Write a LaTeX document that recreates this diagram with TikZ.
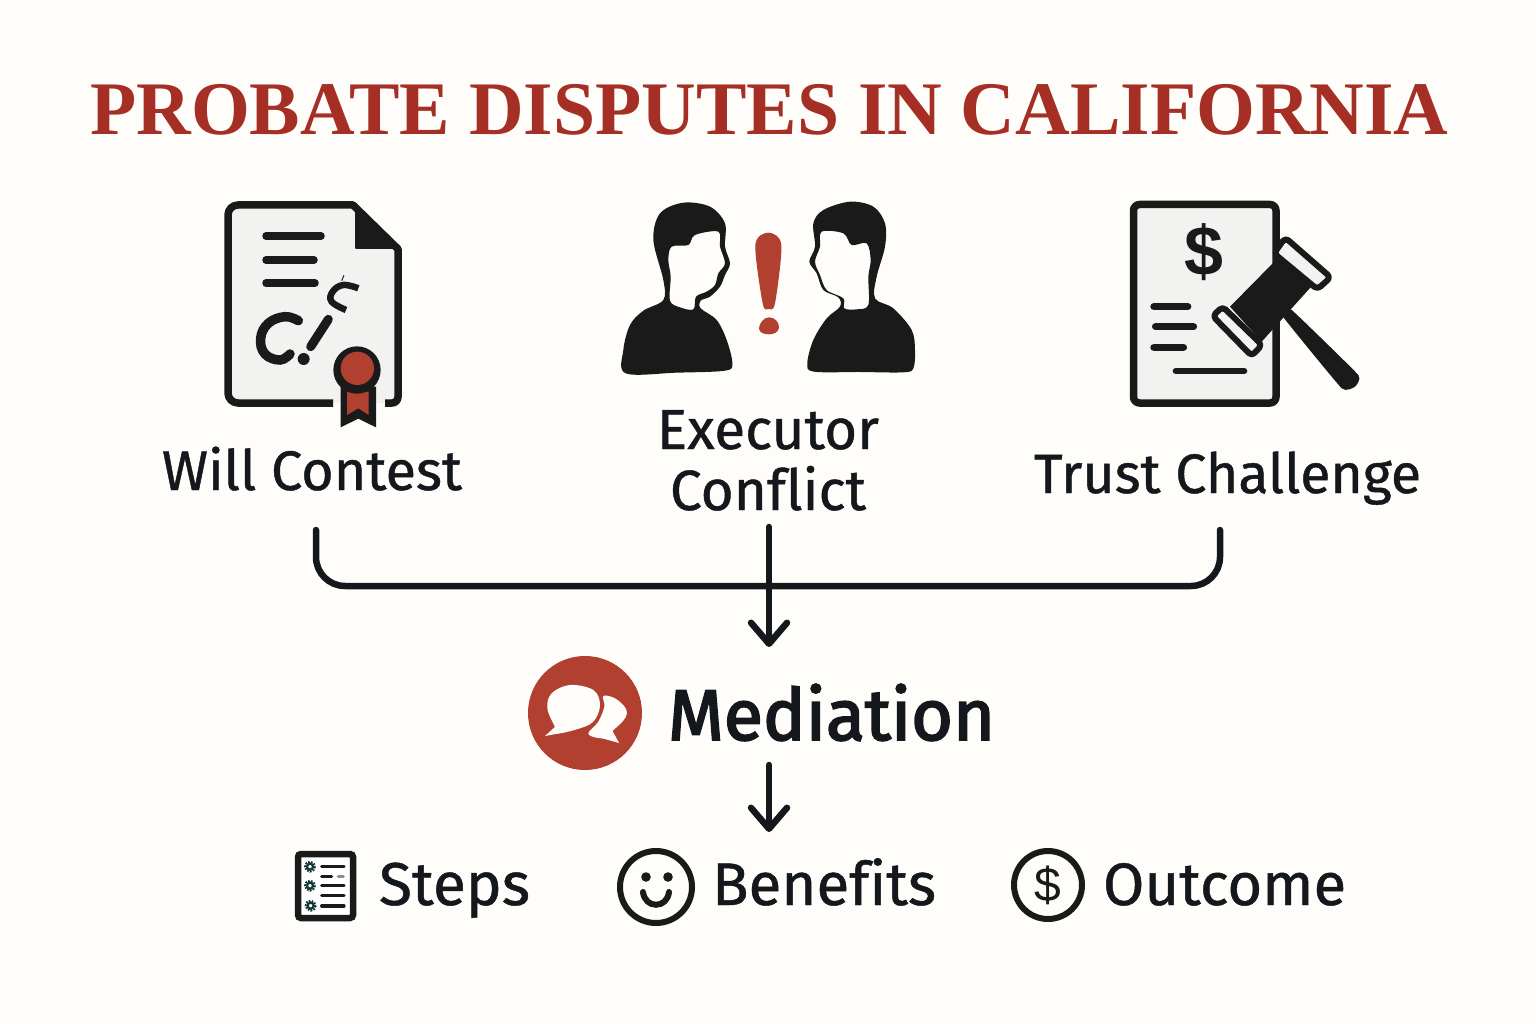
\documentclass[tikz,border=0pt]{standalone}
\usepackage{graphicx}
\usepackage{fontspec}
\setmainfont{Fira Sans}
\newfontfamily\titlefont{Liberation Serif}
\newfontfamily\labelfont[FakeBold=0.8,Ligatures=NoCommon]{Fira Sans}
\newfontfamily\medfont[FakeBold=2.6,Ligatures=NoCommon]{Fira Sans}
\newfontfamily\signfont{Liberation Sans}
\usetikzlibrary{arrows.meta}
\definecolor{bgc}{HTML}{FEFDF9}
\definecolor{ink}{HTML}{1A1A1A}
\definecolor{txt}{HTML}{14181C}
\definecolor{redc}{HTML}{B24030}
\definecolor{titlec}{HTML}{A52E25}
\definecolor{paper}{HTML}{F2F3F1}
\newcommand{\fitw}[2]{\resizebox{#1pt}{!}{#2}}
\tikzset{
  lab/.style={anchor=base west,inner sep=0pt,outer sep=0pt,text=txt,font=\labelfont},
  docline/.style={draw=ink,line width=7.5pt,line cap=round,line join=round},
  thinline/.style={draw=ink,line width=3.2pt,line cap=round},
  conn/.style={draw=txt,line width=6.5pt,line cap=round},
  arrowconn/.style={conn,-{Straight Barb[length=21pt,width=36pt,round]}},
  zoomA/.style={shift={(200,190)},x=0.33333pt,y=-0.33333pt},
  zoomB/.style={shift={(610,190)},x=0.33333pt,y=-0.33333pt},
  zoomC/.style={shift={(1110,190)},x=0.33333pt,y=-0.33333pt},
  zoomD/.style={shift={(510,640)},x=0.33333pt,y=-0.33333pt},
  zoomE/.style={shift={(280,835)},x=0.33333pt,y=-0.33333pt},
  gear/.style={draw=ink!70!teal,line width=1.6pt,fill=white},
}
\begin{document}
\begin{tikzpicture}[x=1pt,y=-1pt]
\useasboundingbox (0,0) rectangle (1536,1024);
\fill[bgc] (0,0) rectangle (1536,1024);
% title
\node[anchor=base west,inner sep=0pt,text=titlec,font=\titlefont\bfseries] (title) at (90,135) {\fitw{1358}{PROBATE DISPUTES IN CALIFORNIA}};

% ---- will document
\fill[paper] (231,205) -- (355,205) -- (398,248) -- (398,403) -- (231,403) -- cycle;
\draw[docline,line cap=butt] (333,403) -- (238,403) arc[start angle=90,end angle=180,radius=10] -- (228,215) arc[start angle=180,end angle=270,radius=10] -- (353,205) -- (398,249) -- (398,397) arc[start angle=0,end angle=90,radius=6] -- (385,403);
\fill[ink,rounded corners=1pt] (355,206) -- (399,249) -- (355,249) -- cycle;
\draw[docline] (266,236) -- (321,236);
\draw[docline] (266,260) -- (314,260);
\draw[docline] (266,283) -- (315,283);
\begin{scope}[zoomA]
  \draw[draw=ink,line width=9.5pt,line cap=round] plot[smooth,tension=0.7] coordinates {(295,392) (255,380) (205,400) (182,445) (195,492) (240,510) (270,492)};
  \draw[draw=ink,line width=9pt,line cap=round] (385,388) -- (332,470);
  \fill[ink] (311,507) circle[radius=18];
  \draw[draw=ink,line width=6.5pt,line cap=butt] plot[smooth,tension=0.7] coordinates {(475,295) (430,285) (398,305) (395,335) (438,360)};
  \draw[draw=ink,line width=1pt] (432,256) -- (425,272);
  % ribbon
  \fill[ink] (422,590) -- (422,712) -- (475,686) -- (528,712) -- (528,590) -- cycle;
  \fill[redc] (441,605) -- (441,675) -- (475,655) -- (506,675) -- (506,605) -- cycle;
  \fill[ink] (471,540) circle[radius=71];
  \fill[redc] (472,535) circle[radius=50];
\end{scope}
\node[lab] (will) at (162,490) {\fitw{300}{Will Contest}};

% ---- two people
\begin{scope}[zoomB]
  \fill[ink,even odd rule] plot[smooth cycle,tension=0.55] coordinates {(47,550) (40,480) (60,405) (100,362) (160,330) (160,270) (130,150) (150,70) (220,38) (300,50) (345,100) (345,170) (360,220) (345,255) (330,290) (300,320) (272,332) (272,355) (320,390) (350,450) (367,520) (345,542) (200,548)}
   plot[smooth cycle,tension=0.55] coordinates {(180,332) (182,260) (175,210) (185,170) (235,165) (255,135) (325,125) (330,170) (345,220) (325,250) (315,285) (290,305) (258,320) (250,358) (210,352)};
  \fill[ink,even odd rule] plot[smooth cycle,tension=0.55] coordinates {(612,545) (592,520) (610,450) (650,385) (690,350) (685,322) (640,300) (620,250) (598,215) (615,170) (610,100) (640,60) (720,35) (790,50) (825,100) (825,170) (800,260) (795,325) (850,355) (905,420) (915,480) (910,535) (880,547) (750,546)}
   plot[smooth cycle,tension=0.55] coordinates {(703,355) (700,325) (650,300) (630,255) (615,215) (630,170) (635,125) (700,130) (725,165) (770,160) (782,210) (775,260) (775,345) (740,358)};
  \fill[redc] plot[smooth cycle,tension=0.5] coordinates {(436,165) (475,128) (514,165) (495,340) (475,357) (458,340)};
  \fill[redc] (477,382) .. controls (495,382) and (508,398) .. (507,413) .. controls (505,428) and (490,433) .. (477,433) .. controls (462,433) and (447,428) .. (447,415) .. controls (447,400) and (462,382) .. (477,382) -- cycle;
\end{scope}
\node[lab] (exec) at (657,449) {\fitw{222}{Executor}};
\node[lab] (conflict) at (670,510) {\fitw{196}{Conflict}};

% ---- trust document
\filldraw[docline,fill=paper,rounded corners=6pt] (1133.5,204.5) rectangle (1276,403);
\node[anchor=center,inner sep=0pt,text=ink,font=\signfont\bfseries\fontsize{70}{70}\selectfont] (dollar) at (1204,252) {\$};
\begin{scope}[zoomC]
  \draw[docline] (132,350) -- (233,350);
  \draw[docline] (137,410) -- (250,410);
  \draw[docline] (132,472) -- (220,472);
  \draw[docline,line width=6pt] (197,543) -- (403,543);
  % gavel
  \fill[ink] plot[smooth cycle,tension=0.2] coordinates {(515,375) (545,360) (745,555) (735,590) (695,595)};
  \fill[ink] (503,205) -- (608,285) -- (455,455) -- (360,350) -- cycle;
  \filldraw[draw=ink,line width=6pt,fill=paper,rounded corners=4pt,line join=round] (526,143) -- (492,190) -- (622,298) -- (662,262) -- cycle;
  \filldraw[draw=ink,line width=6pt,fill=paper,rounded corners=4pt,line join=round] (338,350) -- (308,378) -- (425,498) -- (456,465) -- cycle;
\end{scope}
\node[lab] (trust) at (1034,493) {\fitw{387}{Trust Challenge}};

% ---- connectors
\coordinate (bracketL) at (316,530);
\coordinate (bracketR) at (1220,530);
\coordinate (hubTop) at (769,527);
\coordinate (hubEnd) at (769,647);
\coordinate (medOut) at (769,765);
\coordinate (medEnd) at (769,832);
\draw[conn,rounded corners=29pt] (bracketL) -- (316,586) -- (1220,586) -- (bracketR);
\draw[arrowconn] (hubTop) -- (hubEnd);
\draw[arrowconn] (medOut) -- (medEnd);

% ---- mediation
\node[circle,fill=redc,minimum size=114pt,inner sep=0pt] (medicon) at (585,713) {};
\begin{scope}[zoomD]
  \fill[bgc] plot[smooth cycle,tension=0.6] coordinates {(135,262) (112,205) (125,160) (180,135) (250,150) (270,195) (250,245) (200,268) (140,280)};
  \fill[bgc] (105,288) -- (138,258) -- (165,277) -- cycle;
  \fill[bgc] plot[smooth cycle,tension=0.6] coordinates {(305,275) (345,235) (347,205) (315,175) (280,168) (283,200) (265,245) (235,282) (280,295)};
  \fill[bgc] (327,309) -- (305,268) -- (270,293) -- cycle;
\end{scope}
\node[anchor=base west,inner sep=0pt,outer sep=0pt,text=txt,font=\medfont] (mediation) at (668,740) {\fitw{327}{Mediation}};

% ---- steps
\filldraw[draw=ink,line width=6.5pt,fill=white,rounded corners=3pt] (298,854) rectangle (353,918);
\begin{scope}[zoomE]
  \foreach \g/\gx/\gy in {a/90/95,b/90/152,c/92/212} {
    \draw[gear,line width=2.6pt,dash pattern=on 1.6pt off 1.2pt] (\gx,\gy) circle[radius=14];
    \draw[draw=ink!70!teal,line width=2.2pt] (\gx,\gy) circle[radius=9];
  }
  \draw[thinline] (125,95) -- (192,95);
  \draw[thinline] (125,125) -- (155,125);
  \draw[thinline,draw=ink!50] (175,125) -- (190,125);
  \draw[thinline] (125,152) -- (192,152);
  \draw[thinline] (125,182) -- (192,182);
  \draw[thinline] (125,213) -- (192,213);
\end{scope}
\node[lab] (steps) at (379,905) {\fitw{151}{Steps}};

% ---- benefits
\draw[draw=ink,line width=6pt] (656,887) circle[radius=36];
\fill[ink] (646,877) circle[radius=4.8];
\fill[ink] (668,877) circle[radius=4.8];
\draw[draw=ink,line width=6pt,line cap=round] (643,892) .. controls (645,909) and (667,909) .. (669,892);
\node[lab] (benefits) at (712,905) {\fitw{224}{Benefits}};

% ---- outcome
\draw[draw=ink,line width=6pt] (1048,885) circle[radius=34];
\node[anchor=center,inner sep=0pt,text=ink,font=\signfont\fontsize{48}{48}\selectfont] (usd) at (1048,885) {\$};
\node[lab] (outcome) at (1103,905) {\fitw{243}{Outcome}};
\end{tikzpicture}
\end{document}
